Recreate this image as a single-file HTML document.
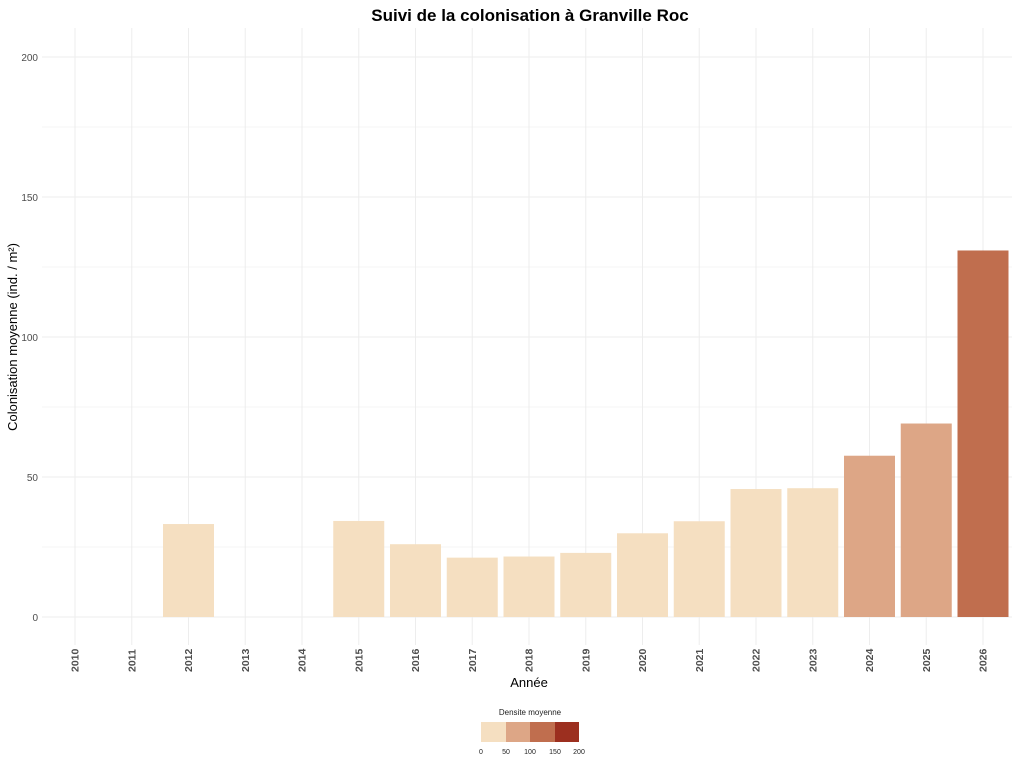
<!DOCTYPE html>
<html><head><meta charset="utf-8"><style>html,body{margin:0;padding:0;background:#fff;}svg{display:block;}</style></head>
<body>
<svg width="1024" height="768" viewBox="0 0 1024 768" xmlns="http://www.w3.org/2000/svg" font-family="Liberation Sans, sans-serif">
<rect width="1024" height="768" fill="#fff"/>
<g stroke="#ededed" stroke-width="1">
<line x1="42" x2="1012" y1="57" y2="57"/><line x1="42" x2="1012" y1="127" y2="127" stroke="#f4f4f4"/>
<line x1="42" x2="1012" y1="197" y2="197"/><line x1="42" x2="1012" y1="267" y2="267" stroke="#f4f4f4"/>
<line x1="42" x2="1012" y1="337" y2="337"/><line x1="42" x2="1012" y1="407" y2="407" stroke="#f4f4f4"/>
<line x1="42" x2="1012" y1="477" y2="477"/><line x1="42" x2="1012" y1="547" y2="547" stroke="#f4f4f4"/>
<line x1="42" x2="1012" y1="617" y2="617"/>
</g>
<g stroke="#ededed" stroke-width="1" id="vg"></g>
<g id="bars"></g>
<g font-size="10" fill="#4d4d4d" text-anchor="end">
<text x="38" y="61">200</text><text x="38" y="201">150</text><text x="38" y="341">100</text><text x="38" y="481">50</text><text x="38" y="621">0</text>
</g>
<g id="xl" font-size="10.5" font-weight="bold" fill="#4d4d4d"></g>
<text x="530" y="21" font-size="17" font-weight="bold" text-anchor="middle" fill="#000">Suivi de la colonisation à Granville Roc</text>
<text x="529" y="687" font-size="13" text-anchor="middle" fill="#000">Année</text>
<text transform="translate(17,337) rotate(-90)" font-size="13" text-anchor="middle" fill="#000">Colonisation moyenne (ind. / m²)</text>
<text x="530" y="715" font-size="8" text-anchor="middle" fill="#222">Densite moyenne</text>
<rect x="481" y="722" width="25" height="20" fill="#F5DFC1"/>
<rect x="506" y="722" width="24" height="20" fill="#DDA686"/>
<rect x="530" y="722" width="25" height="20" fill="#C06E4E"/>
<rect x="555" y="722" width="24" height="20" fill="#9C2F1F"/>
<g font-size="7" fill="#222" text-anchor="middle">
<text x="481" y="754">0</text><text x="506" y="754">50</text><text x="530" y="754">100</text><text x="555" y="754">150</text><text x="579" y="754">200</text>
</g>
<script>
var vals=[0,0,33.2,0,0,34.3,26,21.2,21.6,22.9,29.9,34.2,45.7,46,57.6,69.1,130.9];
var vg=document.getElementById('vg'),bars=document.getElementById('bars'),xl=document.getElementById('xl');
var ns='http://www.w3.org/2000/svg';
for(var i=0;i<17;i++){
 var x=75+i*56.75;
 var l=document.createElementNS(ns,'line');l.setAttribute('x1',x);l.setAttribute('x2',x);l.setAttribute('y1',28);l.setAttribute('y2',645);vg.appendChild(l);
 var v=vals[i];
 if(v>0){var c=v<50?'#F5DFC1':v<100?'#DDA686':v<150?'#C06E4E':'#9C2F1F';
 var r=document.createElementNS(ns,'rect');var h=v*2.8;r.setAttribute('x',x-25.5);r.setAttribute('width',51);r.setAttribute('y',617-h);r.setAttribute('height',h);r.setAttribute('fill',c);bars.appendChild(r);}
 var t=document.createElementNS(ns,'text');t.setAttribute('transform','translate('+(x+3.5)+',672) rotate(-90)');t.textContent=2010+i;xl.appendChild(t);
}
</script>
</svg>
</body></html>
